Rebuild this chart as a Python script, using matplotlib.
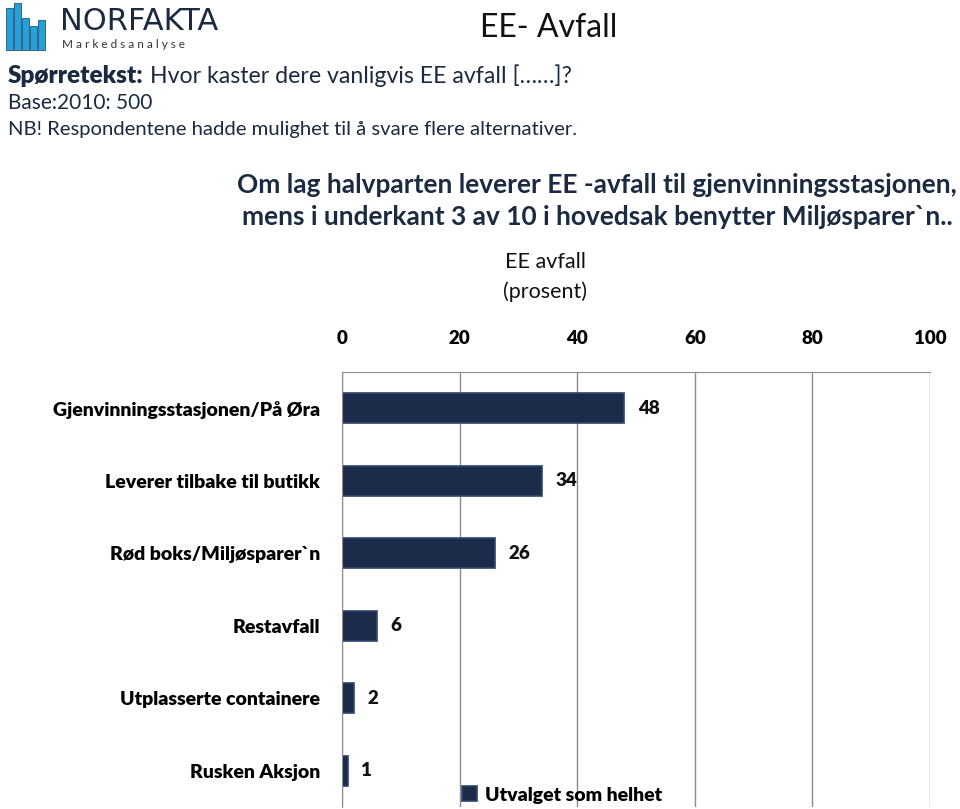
import matplotlib.pyplot as plt
from matplotlib.patches import Rectangle

categories = ['Gjenvinningsstasjonen/På Øra', 'Leverer tilbake til butikk', 'Rød boks/Miljøsparer`n',
              'Restavfall', 'Utplasserte containere', 'Rusken Aksjon']
values = [48, 34, 26, 6, 2, 1]
xticks = [0, 20, 40, 60, 80, 100]
series_name = 'Utvalget som helhet'

plt.rcParams['font.family'] = ['Lato', 'DejaVu Sans']

W, H = 960, 809
fig = plt.figure(figsize=(W / 100, H / 100), dpi=100)


def fx(px):
    return px / W


def fy(py):
    return 1 - py / H


# logo
logo_bars = [(6, 8), (14, 3), (22, 18), (30, 26), (38, 20)]
for x0, top in logo_bars:
    fig.patches.append(Rectangle((fx(x0), fy(50)), fx(7), (50 - top) / H,
                                 transform=fig.transFigure, color='#2a9fd6', ec='#1a5a80', lw=0.6))
fig.text(fx(60), fy(22), 'NORFAKTA', fontsize=22, color='#1a2a40', va='center', ha='left',
         family='DejaVu Sans')
fig.text(fx(62), fy(45), 'M a r k e d s a n a l y s e', fontsize=8.5, color='#333333', va='center', ha='left')

fig.text(fx(480), fy(28), 'EE- Avfall', fontsize=23, color='#111111', va='center', ha='left')

fig.text(fx(8), fy(76), 'Spørretekst:', fontsize=17.5, fontweight='heavy', color='#1a2a40', va='center')
fig.text(fx(150), fy(76), 'Hvor kaster dere vanligvis EE avfall [……]?', fontsize=16.7, color='#1a2a40', va='center')
fig.text(fx(8), fy(103), 'Base:2010: 500', fontsize=15, color='#1a2a40', va='center')
fig.text(fx(8), fy(130), 'NB! Respondentene hadde mulighet til å svare flere alternativer.', fontsize=14.6,
         color='#1a2a40', va='center')

fig.text(fx(597), fy(185), 'Om lag halvparten leverer EE -avfall til gjenvinningsstasjonen,', fontsize=18.9,
         fontweight='bold', color='#1a2a40', ha='center', va='center')
fig.text(fx(597), fy(217), 'mens i underkant 3 av 10 i hovedsak benytter Miljøsparer`n..', fontsize=18.9,
         fontweight='bold', color='#1a2a40', ha='center', va='center')
fig.text(fx(545), fy(262), 'EE avfall', fontsize=15.5, color='#111111', ha='center', va='center')
fig.text(fx(545), fy(292), '(prosent)', fontsize=15.5, color='#111111', ha='center', va='center')

ax = fig.add_axes([fx(342), fy(807), fx(930) - fx(342), (807 - 372) / H])
y = list(range(len(categories)))
bars = ax.barh(y, values, height=0.42, color='#1c2b4a', edgecolor='#2f4670', linewidth=1.2,
               label=series_name)
for yi, v in zip(y, values):
    ax.text(v + 2.3, yi, str(v), fontsize=13.5, fontweight='heavy', va='center', ha='left', color='#111111')

ax.set_xlim(0, 100)
ax.set_ylim(len(categories) - 0.5, -0.5)
ax.set_xticks(xticks)
ax.xaxis.tick_top()
ax.tick_params(axis='x', length=0, pad=18, labelsize=13.5)
for lbl in ax.get_xticklabels():
    lbl.set_fontweight('heavy')
ax.set_yticks(y)
ax.set_yticklabels(categories, fontsize=14, fontweight='heavy')
ax.tick_params(axis='y', length=0, pad=16)
ax.grid(axis='x', color='#8c8c8c', linewidth=1)
ax.set_axisbelow(True)
for s in ['right', 'bottom']:
    ax.spines[s].set_visible(False)
ax.spines['top'].set_color('#8c8c8c')
ax.spines['left'].set_color('#8c8c8c')

fig.legend(handles=[bars], labels=[series_name], loc='center left', bbox_to_anchor=(fx(452), fy(795)),
           frameon=False, prop={'weight': 'heavy', 'size': 14}, handlelength=0.8, handleheight=0.8,
           handletextpad=0.4, borderpad=0)

fig.savefig('out.png', dpi=100)
